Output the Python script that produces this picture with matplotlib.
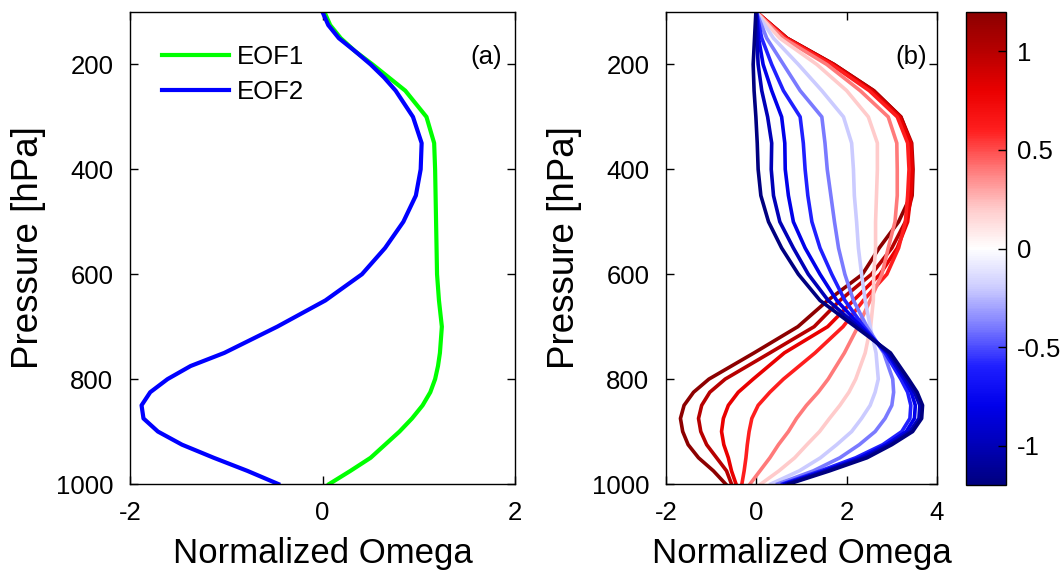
import numpy as np
import matplotlib
matplotlib.use("Agg")
import matplotlib.pyplot as plt
from matplotlib.colors import LinearSegmentedColormap, Normalize
from matplotlib.cm import ScalarMappable

plt.rcParams['font.family'] = ['Liberation Sans', 'DejaVu Sans']

# ---------------- data ----------------
pressure_a = [100, 125, 150, 175, 200, 225, 250, 300, 350, 400, 450, 500, 550, 600,
              650, 700, 750, 775, 800, 825, 850, 875, 900, 925, 950, 975, 1000]
eof1 = [0.02, 0.08, 0.19, 0.34, 0.52, 0.69, 0.86, 1.08, 1.16, 1.17, 1.175, 1.18, 1.185, 1.19,
        1.21, 1.24, 1.22, 1.20, 1.17, 1.12, 1.04, 0.93, 0.80, 0.65, 0.50, 0.29, 0.07]
eof2 = [0.00, 0.06, 0.17, 0.34, 0.50, 0.64, 0.76, 0.94, 1.03, 1.02, 0.97, 0.84, 0.65, 0.41,
        0.03, -0.47, -1.02, -1.37, -1.61, -1.79, -1.88, -1.86, -1.71, -1.46, -1.13, -0.78, -0.46]

pressure_b = [100, 150, 200, 250, 300, 350, 400, 450, 500, 550, 600, 650, 700, 750,
              800, 825, 850, 875, 900, 925, 950, 975, 1000]
curve_values = [1.2, 1.0, 0.8, 0.6, 0.4, 0.2, -0.2, -0.4, -0.6, -0.8, -1.0, -1.2]
curve_p12 = [0, 0.68, 1.72, 2.60, 3.20, 3.42, 3.45, 3.42, 3.15, 2.72, 2.35, 1.58, 0.92,
             -0.05, -1.05, -1.39, -1.60, -1.68, -1.63, -1.51, -1.28, -0.95, -0.68]
curve_p10 = [0, 0.68, 1.72, 2.60, 3.20, 3.44, 3.47, 3.45, 3.30, 3.00, 2.55, 1.85, 1.28,
             0.30, -0.69, -1.03, -1.21, -1.28, -1.23, -1.10, -0.88, -0.66, -0.55]
curve_p08 = [0, 0.67, 1.70, 2.55, 3.17, 3.42, 3.45, 3.42, 3.35, 3.12, 2.74, 2.15, 1.58,
             0.62, -0.07, -0.40, -0.62, -0.73, -0.77, -0.72, -0.62, -0.55, -0.45]
curve_p06 = [0, 0.65, 1.66, 2.50, 3.12, 3.35, 3.38, 3.35, 3.30, 3.15, 2.89, 2.37, 1.92,
             1.30, 0.60, 0.30, 0.04, -0.10, -0.16, -0.20, -0.23, -0.27, -0.32]
curve_p04 = [0, 0.60, 1.56, 2.30, 2.92, 3.11, 3.12, 3.12, 3.07, 2.92, 2.78, 2.52, 2.25,
             1.95, 1.59, 1.37, 1.11, 0.89, 0.71, 0.49, 0.30, 0.08, -0.14]
curve_p02 = [0, 0.52, 1.34, 2.00, 2.48, 2.68, 2.68, 2.66, 2.64, 2.64, 2.60, 2.59, 2.53,
             2.41, 2.20, 2.05, 1.85, 1.62, 1.40, 1.12, 0.85, 0.50, 0.10]
curve_m02 = [0, 0.38, 0.93, 1.45, 1.93, 2.11, 2.15, 2.17, 2.22, 2.26, 2.33, 2.41, 2.52,
             2.65, 2.70, 2.63, 2.52, 2.33, 2.11, 1.78, 1.42, 0.95, 0.32]
curve_m04 = [0, 0.23, 0.60, 0.97, 1.45, 1.52, 1.57, 1.65, 1.73, 1.82, 1.96, 2.15, 2.45,
             2.82, 3.02, 3.04, 3.00, 2.85, 2.63, 2.28, 1.85, 1.26, 0.47]
curve_m06 = [0, 0.12, 0.34, 0.60, 0.97, 1.04, 1.08, 1.14, 1.23, 1.41, 1.67, 1.96, 2.38,
             2.85, 3.20, 3.35, 3.42, 3.40, 3.22, 2.80, 2.20, 1.42, 0.58]
curve_m08 = [0, 0.05, 0.15, 0.34, 0.56, 0.63, 0.64, 0.71, 0.82, 1.08, 1.41, 1.78, 2.32,
             2.90, 3.27, 3.43, 3.52, 3.50, 3.32, 2.88, 2.30, 1.50, 0.63]
curve_m10 = [0, 0.01, 0.04, 0.12, 0.25, 0.34, 0.33, 0.38, 0.52, 0.82, 1.15, 1.59, 2.25,
             2.93, 3.32, 3.50, 3.62, 3.60, 3.40, 2.95, 2.38, 1.55, 0.68]
curve_m12 = [-0.01, -0.04, -0.07, -0.05, -0.01, 0.02, 0.04, 0.10, 0.27, 0.56, 0.93, 1.41, 2.19,
             2.97, 3.37, 3.56, 3.68, 3.66, 3.46, 3.00, 2.45, 1.62, 0.72]
curves_b = [curve_p12, curve_p10, curve_p08, curve_p06, curve_p04, curve_p02,
            curve_m02, curve_m04, curve_m06, curve_m08, curve_m10, curve_m12]

yticks = [200, 400, 600, 800, 1000]
xticks_a = [-2, 0, 2]
xticks_b = [-2, 0, 2, 4]
cbar_ticks = [-1, -0.5, 0, 0.5, 1]

# ---------------- style ----------------
cmap = LinearSegmentedColormap.from_list(
    'redblue', [(0.0, (0.0, 0.0, 0.5)), (1 / 12, (0.0, 0.0, 0.72)),
                (2 / 12, (0.0, 0.0, 0.92)), (3 / 12, (0.12, 0.12, 1.0)),
                (4 / 12, (0.48, 0.48, 1.0)), (5 / 12, (0.8, 0.8, 1.0)),
                (0.5, (1.0, 1.0, 1.0)),
                (7 / 12, (1.0, 0.8, 0.8)), (8 / 12, (1.0, 0.48, 0.48)),
                (9 / 12, (1.0, 0.12, 0.12)), (10 / 12, (0.92, 0.0, 0.0)),
                (11 / 12, (0.72, 0.0, 0.0)), (1.0, (0.55, 0.0, 0.0))])
norm = Normalize(vmin=-1.2, vmax=1.2)

W, H = 1063, 572
fig = plt.figure(figsize=(W / 100, H / 100), dpi=100)

def box(l, r, t, b):
    return [l / W, 1 - b / H, (r - l) / W, (b - t) / H]

ax_a = fig.add_axes(box(130, 515, 12, 484))
ax_b = fig.add_axes(box(666, 937, 12, 484))
cax = fig.add_axes(box(966, 1006, 12, 485))

TICK_FS = 18.5
LABEL_FS = 25

ax_a.plot(eof1, pressure_a, color=(0.0, 1.0, 0.0), lw=3.0, label='EOF1')
ax_a.plot(eof2, pressure_a, color=(0.0, 0.0, 1.0), lw=3.0, label='EOF2')
ax_a.set_xlim(-2, 2)
ax_a.set_xticks(xticks_a)
leg = ax_a.legend(loc='upper left', bbox_to_anchor=(0.083, 0.93), frameon=False,
                  fontsize=TICK_FS, handlelength=2.6, handletextpad=0.3,
                  labelspacing=0.42, borderaxespad=0, borderpad=0)
ax_a.text(0.966, 0.905, '(a)', transform=ax_a.transAxes, ha='right', va='center',
          fontsize=TICK_FS)

for vals, c in zip(curves_b, curve_values):
    ax_b.plot(vals, pressure_b, color=cmap(norm(c)), lw=2.6)
ax_b.set_xlim(-2, 4)
ax_b.set_xticks(xticks_b)
ax_b.text(0.963, 0.905, '(b)', transform=ax_b.transAxes, ha='right', va='center',
          fontsize=TICK_FS)

for ax in (ax_a, ax_b):
    ax.set_ylim(1000, 100)
    ax.set_yticks(yticks)
    ax.tick_params(direction='in', length=6, width=1, labelsize=TICK_FS, pad=12,
                   top=True, right=True)
    ax.set_xticklabels([f'{t:g}' for t in ax.get_xticks()])
    ax.set_xlabel('Normalized Omega', fontsize=LABEL_FS, labelpad=9)
    ax.set_ylabel('Pressure [hPa]', fontsize=LABEL_FS + 1.5, labelpad=7)
    for s in ax.spines.values():
        s.set_linewidth(1.0)

sm = ScalarMappable(norm=norm, cmap=cmap)
cb = fig.colorbar(sm, cax=cax, ticks=cbar_ticks)
cb.ax.tick_params(direction='in', length=6, width=1, labelsize=TICK_FS, pad=8)
cb.ax.set_yticklabels([f'{t:g}' for t in cbar_ticks])
cb.outline.set_linewidth(1.0)

fig.savefig('out.png', dpi=100)
